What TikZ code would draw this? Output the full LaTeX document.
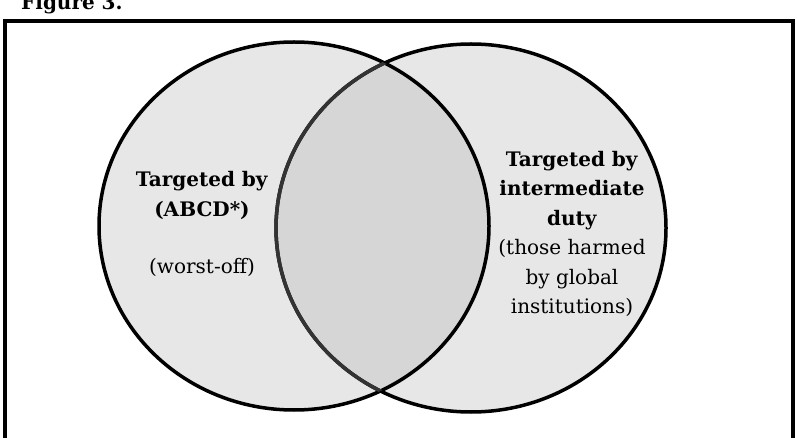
\documentclass[tikz,border=0pt]{standalone}
\usepackage{fontspec}
\setmainfont{DejaVu Serif}
\usetikzlibrary{positioning}
\definecolor{vennlight}{RGB}{231,231,231}
\definecolor{venndark}{RGB}{214,214,214}
\tikzset{
  frame/.style={draw=black, line width=4pt},
  venn/.style={draw=black, line width=3.5pt},
  lensline/.style={draw=black!80, line width=3.5pt},
  lbl/.style={align=center, font=\fontsize{20}{29.5}\selectfont, inner sep=0pt}
}

\begin{document}
\begin{tikzpicture}[x=1pt, y=-1pt]
  \clip (0,0) rectangle (797,438);
  \node[lbl, anchor=base west, font=\fontsize{20}{29.5}\selectfont\bfseries] (fig) at (21,10) {Figure 3.};
  \draw[frame] (5,21.5) rectangle (793,480);
  % the two sets
  \coordinate (lc) at (294,226);
  \coordinate (rc) at (471,228);
  \fill[vennlight] (lc) ellipse [x radius=195pt, y radius=184pt];
  \fill[vennlight] (rc) ellipse [x radius=195pt, y radius=184pt];
  \begin{scope}
    \clip (lc) ellipse [x radius=195pt, y radius=184pt];
    \fill[venndark] (rc) ellipse [x radius=195pt, y radius=184pt];
  \end{scope}
  \draw[venn] (lc) ellipse [x radius=195pt, y radius=184pt];
  \draw[venn] (rc) ellipse [x radius=195pt, y radius=184pt];
  \begin{scope}
    \clip (lc) ellipse [x radius=195pt, y radius=184pt];
    \draw[lensline] (rc) ellipse [x radius=195pt, y radius=184pt];
  \end{scope}
  \node[lbl] (abcd) at (202,224) {\textbf{Targeted by}\\ \textbf{(ABCD*)}\\[28pt] (worst-off)};
  \node[lbl] (inter) at (572,234) {\textbf{Targeted by}\\ \textbf{intermediate}\\ \textbf{duty}\\ (those harmed\\ by global\\ institutions)};
\end{tikzpicture}
\end{document}
